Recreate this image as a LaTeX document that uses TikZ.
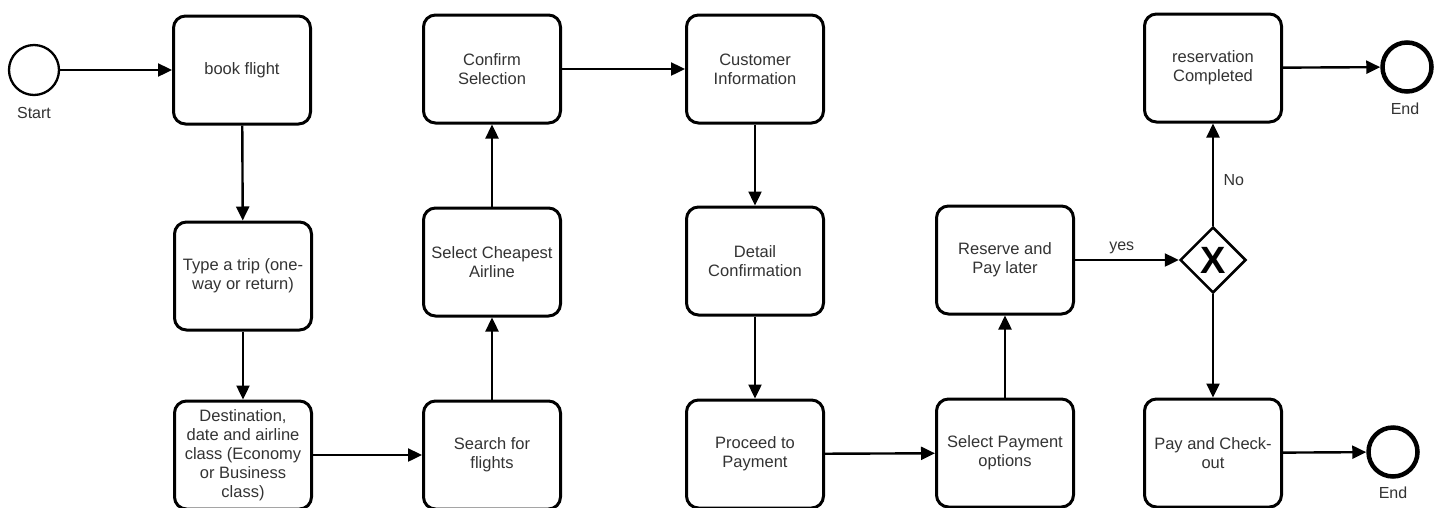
\documentclass[tikz,border=0pt]{standalone}
\usepackage{fontspec}
\setmainfont{Liberation Sans}
\usetikzlibrary{arrows.meta,shapes.geometric}
\tikzstyle{task} = [draw=black, fill=white, line width=3pt, rectangle, rounded corners=12pt, minimum width=137pt, minimum height=108pt, inner sep=4pt, align=center, text=black!80, font=\fontsize{16.5}{19}\selectfont]
\tikzstyle{startev} = [draw=black, fill=white, circle, line width=2.3pt, minimum size=50pt, inner sep=0pt]
\tikzstyle{endev} = [draw=black, fill=white, circle, line width=4.5pt, minimum size=49pt, inner sep=0pt]
\tikzstyle{xorgate} = [draw=black, fill=white, diamond, line width=2.5pt, minimum size=66pt, inner sep=0pt, font=\fontsize{38}{38}\selectfont\bfseries]
\tikzstyle{flow} = [draw=black, line width=2.4pt, -{Triangle[length=14pt,width=13pt]}]
\tikzstyle{caption} = [text=black!80, font=\fontsize{16}{19}\selectfont]

\begin{document}
\begin{tikzpicture}[x=1pt, y=-1pt]
\useasboundingbox[fill=white] (0,0) rectangle (1445,507);

\node[startev] (start) at (34,70) {};
\node[caption] (startlbl) at (34,113) {Start};

\node[task] (book) at (242,70) {book flight};
\node[task] (trip) at (243,276) {Type a trip (one-\\way or return)};
\node[task] (dest) at (243,455) {Destination,\\date and airline\\class (Economy\\or Business\\class)};
\node[task] (search) at (492,455) {Search for\\flights};
\node[task] (cheap) at (492,262) {Select Cheapest\\Airline};
\node[task] (confirm) at (492,69) {Confirm\\Selection};
\node[task] (cust) at (755,69) {Customer\\Information};
\node[task] (detail) at (755,261) {Detail\\Confirmation};
\node[task] (proceed) at (755,454) {Proceed to\\Payment};
\node[task] (selpay) at (1005,453) {Select Payment\\options};
\node[task] (reserve) at (1005,260) {Reserve and\\Pay later};
\node[xorgate] (gate) at (1213,260) {X};
\node[task] (done) at (1213,68) {reservation\\Completed};
\node[task] (pay) at (1213,453) {Pay and Check-\\out};

\node[endev] (endtop) at (1407,67) {};
\node[caption] (endtoplbl) at (1405,109) {End};
\node[endev] (endbot) at (1393,452) {};
\node[caption] (endbotlbl) at (1393,493) {End};

\draw[flow] (start) -- (book);
\draw[flow] (book) -- (trip);
\draw[flow] (trip) -- (dest);
\draw[flow] (dest) -- (search);
\draw[flow] (search) -- (cheap);
\draw[flow] (cheap) -- (confirm);
\draw[flow] (confirm) -- (cust);
\draw[flow] (cust) -- (detail);
\draw[flow] (detail) -- (proceed);
\draw[flow] (proceed) -- (selpay);
\draw[flow] (selpay) -- (reserve);
\draw[flow] (reserve) -- node[caption, above=2pt, pos=0.45] {yes} (gate);
\draw[flow] (gate) -- node[caption, right=6pt, pos=0.45] {No} (done);
\draw[flow] (gate) -- (pay);
\draw[flow] (done) -- (endtop);
\draw[flow] (pay) -- (endbot);
\end{tikzpicture}
\end{document}
